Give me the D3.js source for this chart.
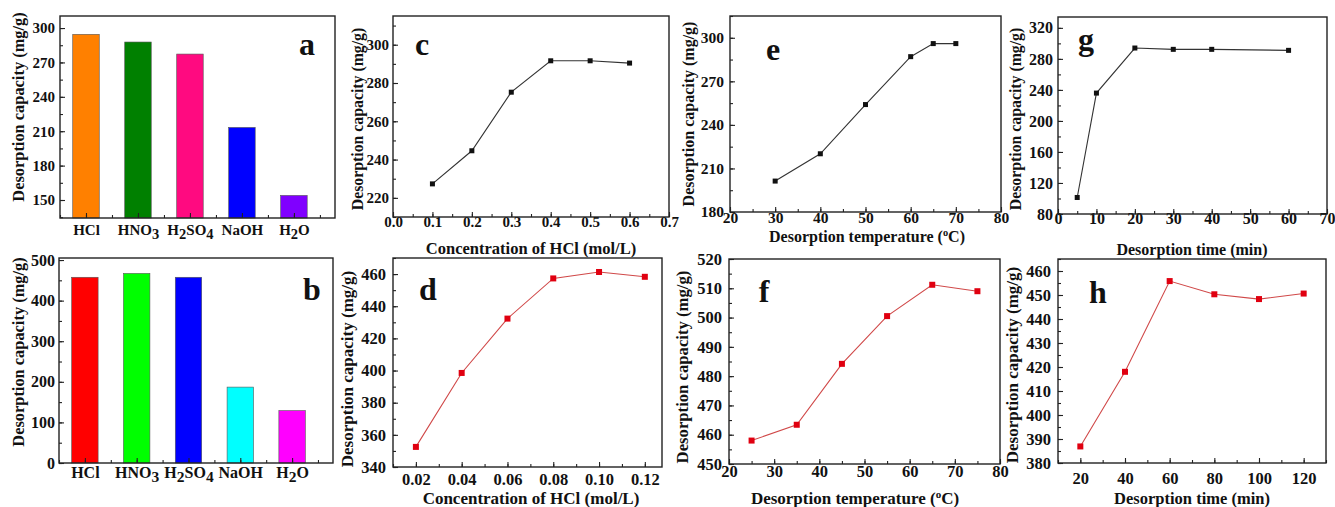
<!DOCTYPE html>
<html>
<head>
<meta charset="utf-8">
<script src="https://cdn.jsdelivr.net/npm/d3@7"></script>
<style>
body { margin: 0; background: #fff; }
svg text { font-family: "Liberation Serif", "Times New Roman", serif; font-weight: bold; fill: #111; }
</style>
</head>
<body>
<svg id="sketchbook" width="1335" height="507"></svg>
<script>
// ---- data ----
const acids = ["HCl", "HNO3", "H2SO4", "NaOH", "H2O"];
const capacityA = [294.5, 287.8, 277.3, 213.3, 154];
const capacityB = [457.5, 467, 457.5, 187, 129];
const colorsA = ["#ff8000", "#008000", "#ff0a80", "#0000ff", "#8000ff"];
const colorsB = ["#ff0000", "#00ff00", "#0000ff", "#00ffff", "#ff00ff"];

const concC = [0.1, 0.2, 0.3, 0.4, 0.5, 0.6];
const capacityC = [227.3, 244.6, 275.2, 291.6, 291.6, 290.4];
const concD = [0.02, 0.04, 0.06, 0.08, 0.10, 0.12];
const capacityD = [352.5, 398.5, 432.3, 457.3, 461.3, 458.3];
const tempE = [30, 40, 50, 60, 65, 70];
const capacityE = [201.3, 220.1, 254, 287, 296, 296];
const tempF = [25, 35, 45, 55, 65, 75];
const capacityF = [458, 463.4, 484.2, 500.5, 511.2, 509];
const timeG = [5, 10, 20, 30, 40, 60];
const capacityG = [101.3, 235.9, 294, 292.3, 292.3, 291];
const timeH = [20, 40, 60, 80, 100, 120];
const capacityH = [386.9, 418, 455.8, 450.3, 448.3, 450.6];

// ---- tick labels ----
const yTicksA = [150, 180, 210, 240, 270, 300];
const yTicksB = [0, 100, 200, 300, 400, 500];
const xTicksC = [0, 0.1, 0.2, 0.3, 0.4, 0.5, 0.6, 0.7];
const yTicksC = [220, 240, 260, 280, 300];
const xTicksD = [0.02, 0.04, 0.06, 0.08, 0.10, 0.12];
const yTicksD = [340, 360, 380, 400, 420, 440, 460];
const xTicksE = [20, 30, 40, 50, 60, 70, 80];
const yTicksE = [180, 210, 240, 270, 300];
const yTicksF = [450, 460, 470, 480, 490, 500, 510, 520];
const xTicksG = [0, 10, 20, 30, 40, 50, 60, 70];
const yTicksG = [80, 120, 160, 200, 240, 280, 320];
const xTicksH = [20, 40, 60, 80, 100, 120];
const yTicksH = [380, 390, 400, 410, 420, 430, 440, 450, 460];

const yTitle = "Desorption capacity (mg/g)";
const concTitle = [["Concentration of HCl (mol/L)"]];
const tempTitle = [["Desorption temperature ("], ["o", "sup"], ["C)"]];
const timeTitle = [["Desorption time (min)"]];

const BLACK = { line: "#333", mark: "#111", size: 5 };
const RED = { line: "#d04848", mark: "#e00010", size: 6 };

const panels = [
    { letter: "a", lp: [307, 55], box: [60, 16, 335, 218], kind: "bar",
      xd: [0.5, 5.79], yd: [134.3, 310.5], cats: acids, vals: capacityA, colors: colorsA,
      yTicks: yTicksA, yMinor: 15, fs: 15, xOff: 17, yPad: 5,
      yt: [18, 107, 16.4] },
    { letter: "b", lp: [312, 300], box: [59, 258, 333, 463], kind: "bar",
      xd: [0.5, 5.79], yd: [0, 505], cats: acids, vals: capacityB, colors: colorsB,
      yTicks: yTicksB, yMinor: 50, fs: 16, xOff: 15, yPad: 4,
      yt: [18, 352, 16.4] },
    { letter: "c", lp: [422, 55], box: [393, 16, 669, 217], kind: "line", style: BLACK,
      xd: [0, 0.7], yd: [210, 315], xs: concC, vals: capacityC,
      xTicks: xTicksC, xMinor: 0.05, xFmt: ".1f", yTicks: yTicksC, yMinor: 10, fs: 15, xOff: 10, yPad: 4,
      yt: [357, 119, 15.8], xt: [531, 248, 16.5, concTitle] },
    { letter: "d", lp: [428, 300], box: [393, 258, 662, 467], kind: "line", style: RED,
      xd: [0.01, 0.1275], yd: [340, 470], xs: concD, vals: capacityD,
      xTicks: xTicksD, xMinor: 0.01, xFmt: ".2f", yTicks: yTicksD, yMinor: 10, fs: 16.5, xOff: 18, yPad: 7,
      yt: [347, 369, 17], xt: [531, 498, 17, concTitle] },
    { letter: "e", lp: [773, 60], box: [730, 16, 1001, 212], kind: "line", style: BLACK,
      xd: [20, 80], yd: [180, 315], xs: tempE, vals: capacityE,
      xTicks: xTicksE, xMinor: 5, xFmt: "d", yTicks: yTicksE, yMinor: 15, fs: 15.5, xOff: 10.5, yPad: 6,
      yt: [688, 114, 16], xt: [867, 236, 16, tempTitle] },
    { letter: "f", lp: [764, 302], box: [729, 259, 1000, 464], kind: "line", style: RED,
      xd: [20, 80], yd: [450, 520], xs: tempF, vals: capacityF,
      xTicks: xTicksE, xMinor: 5, xFmt: "d", yTicks: yTicksF, yMinor: 5, fs: 16.5, xOff: 13, yPad: 7,
      yt: [682, 367, 16.7], xt: [855, 498, 17, tempTitle] },
    { letter: "g", lp: [1086, 50], box: [1058, 17, 1327, 214], kind: "line", style: BLACK,
      xd: [0, 70], yd: [80, 334], xs: timeG, vals: capacityG,
      xTicks: xTicksG, xMinor: 5, xFmt: "d", yTicks: yTicksG, yMinor: 20, fs: 16, xOff: 10, yPad: 5,
      yt: [1015, 119, 15.8], xt: [1192, 249, 16, timeTitle] },
    { letter: "h", lp: [1098, 303], box: [1058, 259, 1326, 463], kind: "line", style: RED,
      xd: [10, 130], yd: [380, 465], xs: timeH, vals: capacityH,
      xTicks: xTicksH, xMinor: 10, xFmt: "d", yTicks: yTicksH, yMinor: 5, fs: 16.5, xOff: 21, yPad: 7,
      yt: [1012, 365, 17], xt: [1192, 498, 16.5, timeTitle] },
];

function minorTicks(domain, step) {
    let lo = Math.ceil(domain[0] / step - 1e-6);
    let hi = Math.floor(domain[1] / step + 1e-6);
    return d3.range(lo, hi + 1).map((k) => { return +(k * step).toFixed(6); });
}

// chemical formula -> digits as (lowered) subscripts
function formula(sel, label, fs) {
    sel.text(null);
    let low = false;
    label.split(/(\d)/).filter((s) => { return s.length; }).forEach((part) => {
        let t = sel.append("tspan").text(part);
        if (/\d/.test(part)) {
            t.attr("dy", 4).attr("font-size", fs - 0.5);
            low = true;
        } else if (low) {
            t.attr("dy", -4);
            low = false;
        }
    });
}

class PanelSketcher {
    constructor(svg, p) {
        this.p = p;
        this.g = svg.append("g").attr("class", "panel " + p.letter);
        let [l, t, r, b] = p.box;
        this.x = d3.scaleLinear().domain(p.xd).range([l, r]);
        this.y = d3.scaleLinear().domain(p.yd).range([b, t]);
    }
    axes() {
        let p = this.p;
        let [l, t, r, b] = p.box;
        let fs = p.fs;

        // minor ticks
        let xMinor = p.kind === "bar" ? minorTicks(p.xd, 0.5) : minorTicks(p.xd, p.xMinor);
        this.g.append("g").attr("transform", `translate(0,${b})`)
            .call(d3.axisBottom(this.x).tickValues(xMinor).tickSize(-3).tickFormat(""));
        this.g.append("g").attr("transform", `translate(${l},0)`)
            .call(d3.axisLeft(this.y).tickValues(minorTicks(p.yd, p.yMinor)).tickSize(-3).tickFormat(""));

        // major ticks + labels
        let xAxis = d3.axisBottom(this.x).tickSize(-5).tickPadding(p.xOff - 0.71 * fs);
        if (p.kind === "bar")
            xAxis.tickValues(d3.range(1, p.cats.length + 1)).tickFormat((i) => { return p.cats[i - 1]; });
        else
            xAxis.tickValues(p.xTicks).tickFormat(d3.format(p.xFmt));
        let gx = this.g.append("g").attr("class", "xaxis").attr("transform", `translate(0,${b})`).call(xAxis);
        this.g.append("g").attr("transform", `translate(${l},0)`)
            .call(d3.axisLeft(this.y).tickValues(p.yTicks).tickSize(-5).tickPadding(p.yPad));

        if (p.kind === "bar")
            gx.selectAll(".tick text").each(function (d) { formula(d3.select(this), p.cats[d - 1], fs); });

        this.g.selectAll(".domain").remove();
        this.g.selectAll(".tick line").attr("stroke", "#222").attr("stroke-width", 1.1);
        this.g.selectAll(".tick text")
            .attr("font-size", fs)
            .attr("fill", "#111");

        // frame
        this.g.append("rect")
            .attr("x", l).attr("y", t).attr("width", r - l).attr("height", b - t)
            .attr("fill", "none").attr("stroke", "#222").attr("stroke-width", 1.4);
        return this;
    }
    bars() {
        let p = this.p;
        let bw = (this.x(2) - this.x(1)) * 0.51;
        let base = this.y(p.yd[0]);
        this.g.insert("g", ":first-child").selectAll("rect.bar")
            .data(p.vals)
            .enter()
            .append("rect")
            .attr("class", "bar")
            .attr("x", (d, i) => { return this.x(i + 1) - bw / 2; })
            .attr("y", (d) => { return this.y(d); })
            .attr("width", bw)
            .attr("height", (d) => { return base - this.y(d); })
            .attr("fill", (d, i) => { return p.colors[i]; })
            .attr("stroke", "#555")
            .attr("stroke-width", 0.6);
        return this;
    }
    series() {
        let p = this.p;
        let pts = p.xs.map((x, i) => { return [x, p.vals[i]]; });
        let line = d3.line().x((d) => { return this.x(d[0]); }).y((d) => { return this.y(d[1]); });
        this.g.append("path")
            .attr("d", line(pts))
            .attr("fill", "none")
            .attr("stroke", p.style.line)
            .attr("stroke-width", 1.1);
        let s = p.style.size;
        this.g.selectAll("rect.mark")
            .data(pts)
            .enter()
            .append("rect")
            .attr("class", "mark")
            .attr("x", (d) => { return this.x(d[0]) - s / 2; })
            .attr("y", (d) => { return this.y(d[1]) - s / 2; })
            .attr("width", s)
            .attr("height", s)
            .attr("fill", p.style.mark);
        return this;
    }
    titles() {
        let p = this.p;
        let [yx, yy, yfs] = p.yt;
        this.g.append("text")
            .attr("transform", `translate(${yx},${yy}) rotate(-90)`)
            .attr("text-anchor", "middle")
            .attr("dominant-baseline", "central")
            .attr("font-size", yfs)
            .text(yTitle);
        if (p.xt) {
            let [xx, xy, xfs, parts] = p.xt;
            let t = this.g.append("text")
                .attr("x", xx).attr("y", xy)
                .attr("text-anchor", "middle")
                .attr("font-size", xfs);
            parts.forEach((part) => {
                if (part[1] === "sup")
                    t.append("tspan").attr("dy", -6).attr("font-size", xfs * 0.65).text(part[0]);
                else
                    t.append("tspan").attr("dy", t.selectAll("tspan").size() ? 6 : 0).text(part[0]);
            });
        }
        this.g.append("text")
            .attr("x", p.lp[0]).attr("y", p.lp[1])
            .attr("text-anchor", "middle")
            .attr("font-size", 32)
            .text(p.letter);
        return this;
    }
    draw() {
        this.axes();
        if (this.p.kind === "bar")
            this.bars();
        else
            this.series();
        return this.titles();
    }
}

const svg = d3.select("#sketchbook");
panels.forEach((p) => { new PanelSketcher(svg, p).draw(); });
</script>
</body>
</html>
